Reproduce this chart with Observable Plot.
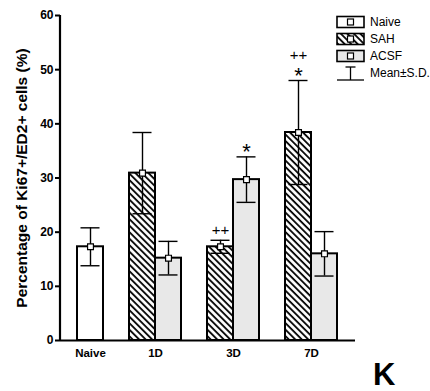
<!DOCTYPE html>
<html>
<head>
<meta charset="utf-8">
<script src="https://cdn.jsdelivr.net/npm/d3@7"></script>
<script src="https://cdn.jsdelivr.net/npm/@observablehq/plot@0.6"></script>
<style>
  html, body { margin: 0; padding: 0; background: #fff; }
  #chart { position: relative; width: 430px; height: 391px; }
  svg { font-family: "Liberation Sans", Arial, sans-serif; }
</style>
</head>
<body>
<div id="chart"></div>
<script>
// ---- data ----
const groups = ["Naive", "1D", "3D", "7D"];
const seriesNames = ["Naive", "SAH", "ACSF"];
const naiveMean = 17.3;
const naiveSD = 3.5;
const sahMean = [30.9, 17.3, 38.4];   // 1D, 3D, 7D
const sahSD = [7.5, 1.2, 9.6];
const acsfMean = [15.2, 29.7, 16.0];
const acsfSD = [3.1, 4.2, 4.1];
const yTicks = [0, 10, 20, 30, 40, 50, 60];
const yLabel = "Percentage of Ki67+/ED2+ cells (%)";
const legendLabels = ["Naive", "SAH", "ACSF", "Mean±S.D."];
const annotations = [
  {group: "3D", series: "SAH", label: "++", level: 0},
  {group: "3D", series: "ACSF", label: "*", level: 0},
  {group: "7D", series: "SAH", label: "*", level: 0},
  {group: "7D", series: "SAH", label: "++", level: 1}
];
const panelLetter = "K";

// ---- table ----
const rows = [{group: "Naive", series: "Naive", mean: naiveMean, sd: naiveSD}];
groups.slice(1).forEach((g, i) => {
  rows.push({group: g, series: "SAH", mean: sahMean[i], sd: sahSD[i]});
  rows.push({group: g, series: "ACSF", mean: acsfMean[i], sd: acsfSD[i]});
});
rows.forEach(d => d.slot = d.group + "|" + d.series);
// slot domain with empty gaps between groups
const slots = [];
groups.forEach((g, i) => {
  if (i > 0) slots.push("gap" + i);
  rows.filter(d => d.group === g).forEach(d => slots.push(d.slot));
});
const byKey = new Map(rows.map(d => [d.slot, d]));
annotations.forEach(a => { const r = byKey.get(a.group + "|" + a.series); a.slot = r.slot; a.top = r.mean + r.sd; });

const FILLS = {Naive: "white", SAH: "url(#hatchSAH)", ACSF: "#e8e8e8"};
const font = "'Liberation Sans', Arial, sans-serif";

const defsMark = () => {
  const defs = d3.create("svg:defs");
  const p = defs.append("pattern").attr("id", "hatchSAH").attr("patternUnits", "userSpaceOnUse")
    .attr("width", 4.6).attr("height", 10).attr("patternTransform", "rotate(-45)");
  p.append("rect").attr("width", 4.6).attr("height", 10).attr("fill", "white");
  p.append("line").attr("x1", 1).attr("x2", 1).attr("y1", 0).attr("y2", 10).attr("stroke", "black").attr("stroke-width", 1.8);
  return defs.node();
};

const yAxisLine = (index, scales, values, dims) => {
  const g = d3.create("svg:g");
  g.append("line").attr("x1", dims.marginLeft).attr("x2", dims.marginLeft)
    .attr("y1", scales.y(0) + 1).attr("y2", scales.y(60)).attr("stroke", "black").attr("stroke-width", 2.2);
  return g.node();
};

const legendMark = (index, scales, values, dims) => {
  const g = d3.create("svg:g").attr("text-anchor", "start");
  const x0 = dims.width - dims.marginRight - 18;
  const bw = 27, bh = 11, step = 17, yc0 = 22;
  seriesNames.forEach((s, i) => {
    const yc = yc0 + i * step;
    g.append("rect").attr("x", x0).attr("y", yc - bh / 2).attr("width", bw).attr("height", bh)
      .attr("fill", FILLS[s]).attr("stroke", "black").attr("stroke-width", 1.6);
    g.append("rect").attr("x", x0 + bw / 2 - 3).attr("y", yc - 3).attr("width", 6).attr("height", 6)
      .attr("fill", "white").attr("stroke", "black").attr("stroke-width", 1.2);
    g.append("text").attr("x", x0 + bw + 6).attr("y", yc).attr("dy", "0.35em")
      .attr("font-size", 12).attr("font-family", font).text(legendLabels[i]);
  });
  const yc = yc0 + 3 * step;
  const cx = x0 + bw / 2;
  g.append("line").attr("x1", cx).attr("x2", cx).attr("y1", yc - 6).attr("y2", yc + 7).attr("stroke", "black").attr("stroke-width", 1.3);
  g.append("line").attr("x1", cx - 5).attr("x2", cx + 5).attr("y1", yc - 6).attr("y2", yc - 6).attr("stroke", "black").attr("stroke-width", 1.3);
  g.append("line").attr("x1", x0).attr("x2", x0 + bw).attr("y1", yc + 7).attr("y2", yc + 7).attr("stroke", "black").attr("stroke-width", 1.3);
  g.append("text").attr("x", x0 + bw + 6).attr("y", yc).attr("dy", "0.35em")
    .attr("font-size", 12).attr("font-family", font).text(legendLabels[3]);
  return g.node();
};

const halfStep = (337 - 76) / slots.length / 2;

const plot = Plot.plot({
  width: 430,
  height: 391,
  marginTop: 15,
  marginBottom: 51,
  marginLeft: 60,
  marginRight: 75,
  style: {fontFamily: font, background: "white"},
  x: {domain: slots, range: [76, 337], padding: 0, axis: null},
  y: {domain: [0, 60], axis: null},
  marks: [
    defsMark,
    ...seriesNames.map(s => Plot.barY(rows.filter(d => d.series === s), {
      x: "slot", y: "mean", fill: FILLS[s], stroke: "black", strokeWidth: 2
    })),
    Plot.ruleX(rows, {x: "slot", y1: d => d.mean - d.sd, y2: d => d.mean + d.sd, stroke: "black", strokeWidth: 1.4}),
    Plot.tickY(rows, {x: "slot", y: d => d.mean + d.sd, stroke: "black", strokeWidth: 1.4, insetLeft: 3.5, insetRight: 3.5}),
    Plot.tickY(rows, {x: "slot", y: d => d.mean - d.sd, stroke: "black", strokeWidth: 1.4, insetLeft: 3.5, insetRight: 3.5}),
    Plot.dot(rows, {x: "slot", y: "mean", symbol: "square", r: 3.3, fill: "white", stroke: "black", strokeWidth: 1.2}),
    Plot.ruleY([0], {stroke: "black", strokeWidth: 2.2}),
    yAxisLine,
    Plot.axisY({ticks: yTicks, tickSize: 5, tickPadding: 2, tickFormat: d => d, label: null,
      fontSize: 12, fontWeight: "bold", strokeWidth: 2}),
    Plot.text([yLabel], {frameAnchor: "left", textAnchor: "middle", dx: -38, dy: 0, rotate: -90, text: d => d, fontSize: 15.5, fontWeight: "bold"}),
    // x category labels
    Plot.text(groups.slice(0, 1), {x: g => g + "|Naive", y: 0, text: d => d, dy: 13, fontSize: 11.5, fontWeight: "bold"}),
    Plot.text(groups.slice(1), {x: g => g + "|SAH", y: 0, text: d => d, dx: halfStep, dy: 13, fontSize: 11.5, fontWeight: "bold"}),
    // significance marks
    Plot.text(annotations.filter(a => a.label === "*"), {x: "slot", y: "top", text: "label", dy: -5, fontSize: 22}),
    Plot.text(annotations.filter(a => a.label === "++" && a.level === 0), {x: "slot", y: "top", text: "label", fontSize: 15, dy: -10}),
    Plot.text(annotations.filter(a => a.label === "++" && a.level === 1), {x: "slot", y: "top", text: "label", fontSize: 15, dy: -25}),
    legendMark,
    Plot.text([panelLetter], {frameAnchor: "bottom-right", lineAnchor: "bottom", dx: 40, dy: 44, text: d => d, fontSize: 31, fontWeight: "bold"})
  ]
});
document.getElementById("chart").appendChild(plot);
</script>
</body>
</html>
